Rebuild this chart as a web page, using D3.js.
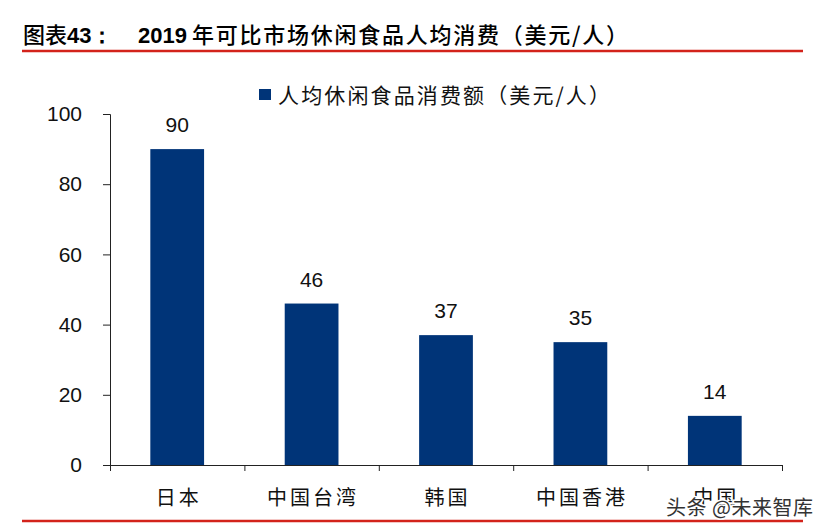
<html>
<head>
<meta charset="utf-8">
<script src="https://d3js.org/d3.v7.min.js"></script>
<style>
  body { margin: 0; background: #fff; }
</style>
</head>
<body>
<script>
// data
let regions = ["日本", "中国台湾", "韩国", "中国香港", "中国"];
let spend = [90, 46, 37, 35, 14];
let yTicks = [0, 20, 40, 60, 80, 100];

let titleLead = ["图表", "43：", "2019"];
let titleRest = "年可比市场休闲食品人均消费（美元/人）";
let legendText = "人均休闲食品消费额（美元/人）";

let canvasW = 831;
let canvasH = 531;
let plotL = 110, plotR = 782, plotT = 114, plotB = 465;
let barColor = "#003478";
let cjk = "'Noto Sans CJK SC', sans-serif";
let num = "'Liberation Sans', Arial, sans-serif";

let svg = d3.select("body").append("svg")
  .attr("width", canvasW)
  .attr("height", canvasH)
  .style("background-color", "#fff");

// header
let title = svg.append("text")
  .attr("y", 43)
  .attr("font-size", "22px")
  .attr("fill", "#000");
title.append("tspan")
  .attr("x", 23)
  .attr("font-family", cjk)
  .attr("font-weight", 500)
  .text(titleLead[0]);
title.append("tspan")
  .attr("font-family", num)
  .attr("font-weight", "bold")
  .text(titleLead[1]);
title.append("tspan")
  .attr("x", 138)
  .attr("font-family", num)
  .attr("font-weight", "bold")
  .text(titleLead[2]);
title.append("tspan")
  .attr("x", 192)
  .attr("font-family", cjk)
  .attr("font-weight", 500)
  .attr("textLength", 436)
  .attr("lengthAdjust", "spacing")
  .text(titleRest);

svg.append("line")
  .attr("x1", 22).attr("x2", 803)
  .attr("y1", 51).attr("y2", 51)
  .attr("stroke", "#d3231b")
  .attr("stroke-width", 2.5);

svg.append("line")
  .attr("x1", 22).attr("x2", 803)
  .attr("y1", 521).attr("y2", 521)
  .attr("stroke", "#d3231b")
  .attr("stroke-width", 2.5);

// scales
let x = d3.scaleBand()
  .domain(regions)
  .range([plotL, plotR])
  .paddingInner(0.6)
  .paddingOuter(0.3);

let y = d3.scaleLinear()
  .domain([0, 100])
  .range([plotB, plotT]);

// axes
let yAxis = svg.append("g")
  .attr("transform", `translate(${plotL},0)`)
  .call(d3.axisLeft(y).tickValues(yTicks).tickSize(7).tickPadding(21).tickSizeOuter(7));
yAxis.selectAll("text")
  .attr("font-family", num)
  .attr("font-size", "21px")
  .attr("fill", "#111");
yAxis.selectAll("line, path").attr("stroke", "#222");

// category boundaries on x axis
let edges = d3.scaleLinear().domain([0, regions.length]).range([plotL, plotR]);
let xAxis = svg.append("g")
  .attr("transform", `translate(0,${plotB})`)
  .call(d3.axisBottom(edges).tickValues(d3.range(regions.length + 1)).tickFormat("").tickSize(6).tickSizeOuter(0));
xAxis.selectAll("line, path").attr("stroke", "#222");

// bars
svg.selectAll()
  .data(spend)
  .enter()
  .append("rect")
  .attr("fill", barColor)
  .attr("x", (d, i) => x(regions[i]))
  .attr("y", d => y(d))
  .attr("width", x.bandwidth())
  .attr("height", d => plotB - y(d));

// value labels
svg.selectAll()
  .data(spend)
  .enter()
  .append("text")
  .attr("text-anchor", "middle")
  .attr("font-family", num)
  .attr("font-size", "21px")
  .attr("fill", "#111")
  .attr("x", (d, i) => x(regions[i]) + x.bandwidth() / 2)
  .attr("y", d => y(d) - 17)
  .text(d => d);

// category labels
svg.selectAll()
  .data(regions)
  .enter()
  .append("text")
  .attr("text-anchor", "middle")
  .attr("font-family", cjk)
  .attr("font-size", "20px")
  .attr("letter-spacing", "3px")
  .attr("fill", "#111")
  .attr("x", d => x(d) + x.bandwidth() / 2 + 1.5)
  .attr("y", 505)
  .text(d => d);

// legend
svg.append("rect")
  .attr("x", 259)
  .attr("y", 89)
  .attr("width", 12)
  .attr("height", 11)
  .attr("fill", barColor);

svg.append("text")
  .attr("x", 278)
  .attr("y", 103)
  .attr("font-family", cjk)
  .attr("font-size", "21px")
  .attr("textLength", 332)
  .attr("lengthAdjust", "spacing")
  .attr("fill", "#111")
  .text(legendText);

// watermark
svg.append("text")
  .attr("x", 666)
  .attr("y", 515)
  .attr("font-family", cjk)
  .attr("font-size", "20px")
  .attr("letter-spacing", "0.5px")
  .attr("fill", "#333")
  .attr("stroke", "#fff")
  .attr("stroke-width", 3)
  .attr("paint-order", "stroke")
  .text("头条 @未来智库");
</script>
</body>
</html>
